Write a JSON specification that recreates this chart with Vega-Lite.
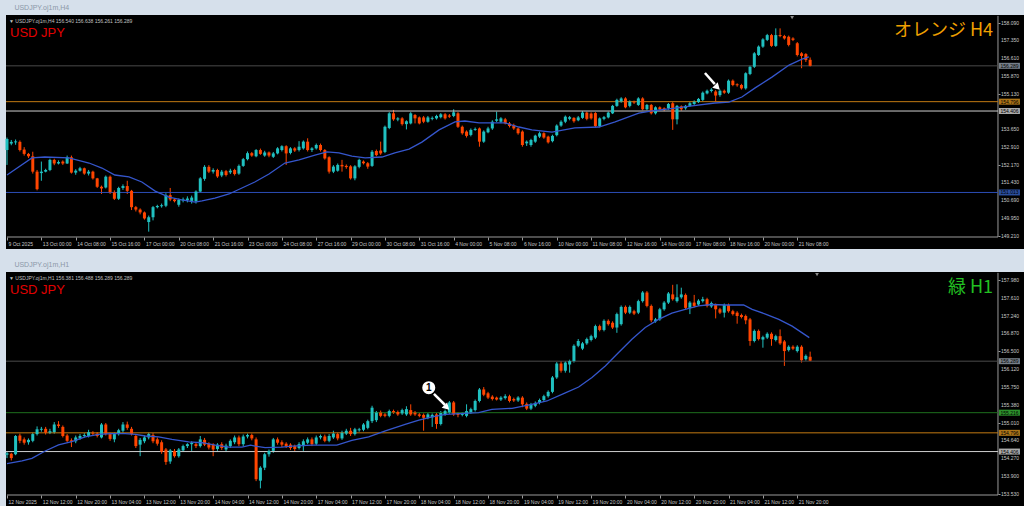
{
"$schema":"https://vega.github.io/schema/vega-lite/v6.json",
"background":"#d6e0eb",
"padding":{"left":4,"right":2,"top":4,"bottom":0},
"spacing":12,
"config":{"view":{"fill":"#000000","stroke":null},"axis":{"labelOverlap":false},"title":{"anchor":"start","fontSize":7,"font":"Liberation Sans","fontWeight":"normal","color":"#8c98a8","offset":4,"dx":10}},
"datasets":{
"h4":[
{"i":0,"o":152.78,"h":153.3,"l":152.16,"c":153.24},{"i":1,"o":153.05,"h":153.2,"l":152.98,"c":153.12},{"i":2,"o":153.1,"h":153.22,"l":153.0,"c":153.14},{"i":3,"o":153.12,"h":153.18,"l":152.72,"c":152.78},{"i":4,"o":152.8,"h":152.9,"l":152.55,"c":152.62},{"i":5,"o":152.62,"h":152.66,"l":152.45,"c":152.52},{"i":6,"o":152.52,"h":152.71,"l":151.8,"c":151.88},{"i":7,"o":151.88,"h":151.95,"l":151.1,"c":151.15},{"i":8,"o":151.82,"h":152.3,"l":151.5,"c":151.88},{"i":9,"o":151.88,"h":152.0,"l":151.85,"c":151.95},
{"i":10,"o":151.95,"h":152.42,"l":151.9,"c":152.37},{"i":11,"o":152.37,"h":152.42,"l":152.15,"c":152.22},{"i":12,"o":152.22,"h":152.35,"l":152.18,"c":152.28},{"i":13,"o":152.3,"h":152.35,"l":152.16,"c":152.22},{"i":14,"o":152.22,"h":152.55,"l":152.2,"c":152.48},{"i":15,"o":152.48,"h":152.55,"l":151.8,"c":151.84},{"i":16,"o":151.84,"h":151.98,"l":151.75,"c":151.92},{"i":17,"o":151.92,"h":152.08,"l":151.88,"c":152.02},{"i":18,"o":152.02,"h":152.05,"l":151.75,"c":151.8},{"i":19,"o":151.8,"h":151.95,"l":151.72,"c":151.88},
{"i":20,"o":151.88,"h":151.92,"l":151.55,"c":151.6},{"i":21,"o":151.6,"h":151.62,"l":151.2,"c":151.25},{"i":22,"o":151.25,"h":151.3,"l":150.95,"c":151.18},{"i":23,"o":151.22,"h":151.72,"l":151.18,"c":151.67},{"i":24,"o":151.67,"h":151.72,"l":150.95,"c":151.02},{"i":25,"o":151.02,"h":151.1,"l":150.7,"c":150.75},{"i":26,"o":150.75,"h":151.25,"l":150.7,"c":151.2},{"i":27,"o":151.2,"h":151.35,"l":151.12,"c":151.28},{"i":28,"o":151.28,"h":151.5,"l":150.95,"c":151.08},{"i":29,"o":151.08,"h":151.12,"l":150.28,"c":150.4},
{"i":30,"o":150.4,"h":150.45,"l":150.22,"c":150.3},{"i":31,"o":150.3,"h":150.35,"l":150.1,"c":150.18},{"i":32,"o":150.18,"h":150.22,"l":149.88,"c":149.93},{"i":33,"o":149.78,"h":150.05,"l":149.38,"c":149.98},{"i":34,"o":149.98,"h":150.45,"l":149.85,"c":150.4},{"i":35,"o":150.4,"h":150.5,"l":150.35,"c":150.45},{"i":36,"o":150.44,"h":150.55,"l":150.38,"c":150.48},{"i":37,"o":150.46,"h":150.98,"l":150.4,"c":150.9},{"i":38,"o":150.9,"h":151.2,"l":150.65,"c":150.72},{"i":39,"o":150.72,"h":150.78,"l":150.6,"c":150.65},
{"i":40,"o":150.5,"h":150.76,"l":150.42,"c":150.7},{"i":41,"o":150.68,"h":150.8,"l":150.6,"c":150.72},{"i":42,"o":150.7,"h":150.85,"l":150.6,"c":150.76},{"i":43,"o":150.66,"h":150.88,"l":150.55,"c":150.8},{"i":44,"o":150.64,"h":151.1,"l":150.55,"c":151.05},{"i":45,"o":151.05,"h":151.65,"l":151.0,"c":151.6},{"i":46,"o":151.58,"h":152.15,"l":151.5,"c":152.08},{"i":47,"o":152.08,"h":152.15,"l":151.82,"c":151.88},{"i":48,"o":151.88,"h":152.02,"l":151.8,"c":151.95},{"i":49,"o":151.95,"h":152.0,"l":151.62,"c":151.68},
{"i":50,"o":151.72,"h":151.95,"l":151.65,"c":151.88},{"i":51,"o":151.9,"h":151.95,"l":151.68,"c":151.74},{"i":52,"o":151.85,"h":152.0,"l":151.78,"c":151.92},{"i":53,"o":151.95,"h":152.0,"l":151.72,"c":151.78},{"i":54,"o":151.8,"h":152.18,"l":151.75,"c":152.12},{"i":55,"o":152.12,"h":152.45,"l":152.08,"c":152.4},{"i":56,"o":152.4,"h":152.72,"l":152.35,"c":152.65},{"i":57,"o":152.65,"h":152.7,"l":152.5,"c":152.55},{"i":58,"o":152.52,"h":152.82,"l":152.48,"c":152.78},{"i":59,"o":152.78,"h":152.84,"l":152.58,"c":152.62},
{"i":60,"o":152.55,"h":152.75,"l":152.5,"c":152.68},{"i":61,"o":152.68,"h":152.72,"l":152.48,"c":152.55},{"i":62,"o":152.5,"h":152.7,"l":152.45,"c":152.64},{"i":63,"o":152.64,"h":152.9,"l":152.6,"c":152.85},{"i":64,"o":152.78,"h":152.98,"l":152.72,"c":152.94},{"i":65,"o":152.94,"h":152.98,"l":152.16,"c":152.64},{"i":66,"o":152.66,"h":152.9,"l":152.6,"c":152.85},{"i":67,"o":152.85,"h":152.9,"l":152.7,"c":152.76},{"i":68,"o":152.78,"h":153.15,"l":152.72,"c":152.92},{"i":69,"o":152.85,"h":153.18,"l":152.8,"c":153.13},
{"i":70,"o":153.13,"h":153.27,"l":152.72,"c":152.78},{"i":71,"o":152.78,"h":152.9,"l":152.7,"c":152.85},{"i":72,"o":152.85,"h":153.05,"l":152.8,"c":152.99},{"i":73,"o":152.99,"h":153.05,"l":152.72,"c":152.78},{"i":74,"o":152.78,"h":152.82,"l":152.38,"c":152.43},{"i":75,"o":152.48,"h":152.52,"l":151.8,"c":151.88},{"i":76,"o":151.88,"h":152.15,"l":151.82,"c":152.09},{"i":77,"o":151.92,"h":152.22,"l":151.88,"c":152.16},{"i":78,"o":152.16,"h":152.37,"l":151.88,"c":152.1},{"i":79,"o":152.12,"h":152.18,"l":152.0,"c":152.07},
{"i":80,"o":152.1,"h":152.15,"l":151.55,"c":151.6},{"i":81,"o":151.6,"h":152.15,"l":151.52,"c":152.1},{"i":82,"o":152.08,"h":152.42,"l":152.02,"c":152.37},{"i":83,"o":152.3,"h":152.35,"l":152.18,"c":152.23},{"i":84,"o":152.23,"h":152.28,"l":152.0,"c":152.09},{"i":85,"o":152.12,"h":152.78,"l":152.08,"c":152.71},{"i":86,"o":152.74,"h":152.8,"l":152.52,"c":152.57},{"i":87,"o":152.76,"h":153.13,"l":152.58,"c":152.64},{"i":88,"o":152.7,"h":153.8,"l":152.65,"c":153.75},{"i":89,"o":153.7,"h":154.36,"l":153.65,"c":154.31},
{"i":90,"o":154.31,"h":154.45,"l":154.0,"c":154.06},{"i":91,"o":154.05,"h":154.15,"l":153.98,"c":154.1},{"i":92,"o":154.1,"h":154.15,"l":153.8,"c":153.86},{"i":93,"o":153.86,"h":154.02,"l":153.64,"c":153.98},{"i":94,"o":153.89,"h":154.36,"l":153.85,"c":154.31},{"i":95,"o":154.24,"h":154.28,"l":153.89,"c":154.1},{"i":96,"o":154.14,"h":154.18,"l":153.85,"c":153.89},{"i":97,"o":154.14,"h":154.2,"l":153.9,"c":153.96},{"i":98,"o":153.96,"h":154.2,"l":153.92,"c":154.14},{"i":99,"o":154.08,"h":154.18,"l":154.02,"c":154.12},
{"i":100,"o":154.1,"h":154.25,"l":154.05,"c":154.2},{"i":101,"o":154.15,"h":154.32,"l":154.1,"c":154.27},{"i":102,"o":154.27,"h":154.32,"l":154.05,"c":154.1},{"i":103,"o":154.22,"h":154.28,"l":154.12,"c":154.17},{"i":104,"o":154.2,"h":154.48,"l":154.15,"c":154.35},{"i":105,"o":154.31,"h":154.36,"l":153.7,"c":153.75},{"i":106,"o":153.75,"h":153.8,"l":153.42,"c":153.48},{"i":107,"o":153.55,"h":153.6,"l":153.3,"c":153.37},{"i":108,"o":153.41,"h":153.68,"l":153.35,"c":153.62},{"i":109,"o":153.62,"h":153.72,"l":153.58,"c":153.66},
{"i":110,"o":153.68,"h":153.72,"l":152.92,"c":153.13},{"i":111,"o":153.13,"h":153.6,"l":153.08,"c":153.55},{"i":112,"o":153.52,"h":153.75,"l":153.48,"c":153.68},{"i":113,"o":153.68,"h":154.02,"l":153.62,"c":153.96},{"i":114,"o":154.0,"h":154.38,"l":153.95,"c":154.06},{"i":115,"o":153.96,"h":154.15,"l":153.9,"c":154.1},{"i":116,"o":154.06,"h":154.12,"l":153.85,"c":153.89},{"i":117,"o":153.89,"h":153.95,"l":153.72,"c":153.78},{"i":118,"o":153.82,"h":153.88,"l":153.62,"c":153.68},{"i":119,"o":153.68,"h":153.72,"l":153.42,"c":153.48},
{"i":120,"o":153.55,"h":153.6,"l":152.92,"c":152.99},{"i":121,"o":153.06,"h":153.18,"l":152.95,"c":153.13},{"i":122,"o":152.99,"h":153.25,"l":152.92,"c":153.2},{"i":123,"o":153.13,"h":153.42,"l":153.08,"c":153.38},{"i":124,"o":153.34,"h":153.55,"l":153.28,"c":153.48},{"i":125,"o":153.48,"h":153.52,"l":153.25,"c":153.3},{"i":126,"o":153.34,"h":153.38,"l":153.05,"c":153.1},{"i":127,"o":153.15,"h":153.42,"l":153.1,"c":153.37},{"i":128,"o":153.4,"h":153.85,"l":153.35,"c":153.8},{"i":129,"o":153.8,"h":154.02,"l":153.75,"c":153.96},
{"i":130,"o":153.96,"h":154.22,"l":153.9,"c":154.17},{"i":131,"o":154.08,"h":154.2,"l":154.02,"c":154.15},{"i":132,"o":154.12,"h":154.15,"l":153.92,"c":153.98},{"i":133,"o":154.02,"h":154.2,"l":153.98,"c":154.14},{"i":134,"o":154.12,"h":154.4,"l":154.08,"c":154.34},{"i":135,"o":154.34,"h":154.38,"l":154.02,"c":154.08},{"i":136,"o":154.3,"h":154.35,"l":154.05,"c":154.1},{"i":137,"o":154.32,"h":154.36,"l":153.72,"c":153.78},{"i":138,"o":153.78,"h":154.14,"l":153.72,"c":154.1},{"i":139,"o":154.08,"h":154.2,"l":154.02,"c":154.15},
{"i":140,"o":154.14,"h":154.38,"l":154.1,"c":154.34},{"i":141,"o":154.31,"h":154.66,"l":154.28,"c":154.62},{"i":142,"o":154.62,"h":154.92,"l":154.58,"c":154.87},{"i":143,"o":154.8,"h":154.98,"l":154.75,"c":154.93},{"i":144,"o":154.93,"h":154.98,"l":154.52,"c":154.56},{"i":145,"o":154.62,"h":154.85,"l":154.56,"c":154.8},{"i":146,"o":154.8,"h":154.84,"l":154.7,"c":154.76},{"i":147,"o":154.66,"h":154.98,"l":154.62,"c":154.93},{"i":148,"o":154.93,"h":154.98,"l":154.44,"c":154.48},{"i":149,"o":154.48,"h":154.7,"l":154.44,"c":154.66},
{"i":150,"o":154.66,"h":154.7,"l":154.26,"c":154.31},{"i":151,"o":154.31,"h":154.6,"l":154.26,"c":154.56},{"i":152,"o":154.56,"h":154.6,"l":154.44,"c":154.48},{"i":153,"o":154.52,"h":154.56,"l":154.4,"c":154.46},{"i":154,"o":154.52,"h":154.74,"l":154.46,"c":154.7},{"i":155,"o":154.73,"h":154.78,"l":153.62,"c":154.06},{"i":156,"o":154.06,"h":154.66,"l":153.85,"c":154.62},{"i":157,"o":154.6,"h":154.64,"l":154.42,"c":154.48},{"i":158,"o":154.52,"h":154.66,"l":154.46,"c":154.62},{"i":159,"o":154.62,"h":154.78,"l":154.58,"c":154.73},
{"i":160,"o":154.7,"h":154.85,"l":154.66,"c":154.8},{"i":161,"o":154.78,"h":154.95,"l":154.74,"c":154.91},{"i":162,"o":154.87,"h":155.22,"l":154.82,"c":155.17},{"i":163,"o":155.14,"h":155.3,"l":155.1,"c":155.25},{"i":164,"o":155.24,"h":155.36,"l":155.18,"c":155.3},{"i":165,"o":155.22,"h":155.28,"l":154.8,"c":155.05},{"i":166,"o":155.07,"h":155.3,"l":155.0,"c":155.25},{"i":167,"o":155.25,"h":155.3,"l":155.12,"c":155.17},{"i":168,"o":155.17,"h":155.72,"l":155.12,"c":155.67},{"i":169,"o":155.67,"h":155.72,"l":155.44,"c":155.49},
{"i":170,"o":155.52,"h":155.56,"l":155.42,"c":155.48},{"i":171,"o":155.49,"h":155.54,"l":155.3,"c":155.35},{"i":172,"o":155.35,"h":156.02,"l":155.3,"c":155.98},{"i":173,"o":155.95,"h":156.3,"l":155.9,"c":156.25},{"i":174,"o":156.25,"h":156.86,"l":156.2,"c":156.81},{"i":175,"o":156.74,"h":157.14,"l":156.7,"c":157.09},{"i":176,"o":157.09,"h":157.44,"l":157.04,"c":157.39},{"i":177,"o":157.37,"h":157.62,"l":157.32,"c":157.57},{"i":178,"o":157.57,"h":157.62,"l":157.08,"c":157.12},{"i":179,"o":157.12,"h":157.85,"l":157.08,"c":157.57},
{"i":180,"o":157.57,"h":157.85,"l":157.48,"c":157.53},{"i":181,"o":157.53,"h":157.58,"l":157.38,"c":157.43},{"i":182,"o":157.5,"h":157.55,"l":157.1,"c":157.16},{"i":183,"o":157.43,"h":157.48,"l":157.32,"c":157.37},{"i":184,"o":157.23,"h":157.28,"l":156.68,"c":156.74},{"i":185,"o":156.81,"h":156.86,"l":156.19,"c":156.7},{"i":186,"o":156.78,"h":156.82,"l":156.45,"c":156.53},{"i":187,"o":156.54,"h":156.638,"l":156.261,"c":156.289}
],
"h1":[
{"i":0,"o":154.34,"h":154.4,"l":154.27,"c":154.37},{"i":1,"o":154.36,"h":154.38,"l":154.22,"c":154.27},{"i":2,"o":154.35,"h":154.75,"l":154.33,"c":154.73},{"i":3,"o":154.74,"h":154.78,"l":154.58,"c":154.63},{"i":4,"o":154.66,"h":154.7,"l":154.55,"c":154.59},{"i":5,"o":154.6,"h":154.68,"l":154.55,"c":154.65},{"i":6,"o":154.63,"h":154.8,"l":154.6,"c":154.77},{"i":7,"o":154.77,"h":154.93,"l":154.74,"c":154.87},{"i":8,"o":154.86,"h":154.92,"l":154.82,"c":154.88},{"i":9,"o":154.88,"h":154.92,"l":154.76,"c":154.8},
{"i":10,"o":154.8,"h":154.88,"l":154.77,"c":154.83},{"i":11,"o":154.81,"h":155.02,"l":154.78,"c":154.97},{"i":12,"o":154.97,"h":155.04,"l":154.9,"c":154.94},{"i":13,"o":154.92,"h":154.95,"l":154.7,"c":154.73},{"i":14,"o":154.74,"h":154.77,"l":154.6,"c":154.63},{"i":15,"o":154.64,"h":154.68,"l":154.5,"c":154.61},{"i":16,"o":154.62,"h":154.74,"l":154.58,"c":154.7},{"i":17,"o":154.68,"h":154.77,"l":154.65,"c":154.73},{"i":18,"o":154.73,"h":154.79,"l":154.7,"c":154.75},{"i":19,"o":154.73,"h":154.86,"l":154.7,"c":154.81},
{"i":20,"o":154.8,"h":154.83,"l":154.74,"c":154.78},{"i":21,"o":154.78,"h":154.81,"l":154.7,"c":154.73},{"i":22,"o":154.7,"h":155.0,"l":154.68,"c":154.97},{"i":23,"o":154.97,"h":155.0,"l":154.74,"c":154.77},{"i":24,"o":154.77,"h":154.8,"l":154.63,"c":154.67},{"i":25,"o":154.66,"h":154.8,"l":154.6,"c":154.77},{"i":26,"o":154.77,"h":154.88,"l":154.74,"c":154.85},{"i":27,"o":154.84,"h":155.02,"l":154.8,"c":154.97},{"i":28,"o":154.97,"h":155.03,"l":154.86,"c":154.9},{"i":29,"o":154.88,"h":154.92,"l":154.74,"c":154.77},
{"i":30,"o":154.73,"h":154.77,"l":154.48,"c":154.52},{"i":31,"o":154.55,"h":154.69,"l":154.31,"c":154.65},{"i":32,"o":154.62,"h":154.74,"l":154.58,"c":154.7},{"i":33,"o":154.7,"h":154.8,"l":154.66,"c":154.77},{"i":34,"o":154.75,"h":154.79,"l":154.58,"c":154.62},{"i":35,"o":154.66,"h":154.7,"l":154.53,"c":154.57},{"i":36,"o":154.6,"h":154.64,"l":154.36,"c":154.4},{"i":37,"o":154.45,"h":154.48,"l":154.13,"c":154.19},{"i":38,"o":154.2,"h":154.46,"l":154.15,"c":154.43},{"i":39,"o":154.42,"h":154.46,"l":154.28,"c":154.31},
{"i":40,"o":154.31,"h":154.48,"l":154.28,"c":154.45},{"i":41,"o":154.43,"h":154.55,"l":154.4,"c":154.52},{"i":42,"o":154.52,"h":154.58,"l":154.48,"c":154.56},{"i":43,"o":154.56,"h":154.62,"l":154.42,"c":154.59},{"i":44,"o":154.56,"h":154.6,"l":154.48,"c":154.52},{"i":45,"o":154.52,"h":154.73,"l":154.49,"c":154.66},{"i":46,"o":154.65,"h":154.69,"l":154.52,"c":154.55},{"i":47,"o":154.57,"h":154.6,"l":154.45,"c":154.49},{"i":48,"o":154.55,"h":154.58,"l":154.31,"c":154.45},{"i":49,"o":154.46,"h":154.58,"l":154.42,"c":154.55},
{"i":50,"o":154.56,"h":154.6,"l":154.44,"c":154.48},{"i":51,"o":154.45,"h":154.57,"l":154.4,"c":154.53},{"i":52,"o":154.52,"h":154.66,"l":154.48,"c":154.63},{"i":53,"o":154.6,"h":154.74,"l":154.56,"c":154.7},{"i":54,"o":154.7,"h":154.74,"l":154.52,"c":154.56},{"i":55,"o":154.56,"h":154.76,"l":154.52,"c":154.72},{"i":56,"o":154.72,"h":154.78,"l":154.68,"c":154.75},{"i":57,"o":154.75,"h":154.78,"l":154.64,"c":154.68},{"i":58,"o":154.66,"h":154.7,"l":153.79,"c":153.83},{"i":59,"o":153.8,"h":154.1,"l":153.64,"c":154.07},
{"i":60,"o":154.07,"h":154.38,"l":154.02,"c":154.35},{"i":61,"o":154.35,"h":154.45,"l":154.3,"c":154.42},{"i":62,"o":154.42,"h":154.69,"l":154.38,"c":154.66},{"i":63,"o":154.66,"h":154.7,"l":154.55,"c":154.59},{"i":64,"o":154.6,"h":154.64,"l":154.5,"c":154.55},{"i":65,"o":154.57,"h":154.6,"l":154.48,"c":154.52},{"i":66,"o":154.55,"h":154.58,"l":154.44,"c":154.48},{"i":67,"o":154.52,"h":154.55,"l":154.42,"c":154.46},{"i":68,"o":154.48,"h":154.6,"l":154.45,"c":154.56},{"i":69,"o":154.52,"h":154.66,"l":154.42,"c":154.62},
{"i":70,"o":154.59,"h":154.7,"l":154.56,"c":154.66},{"i":71,"o":154.66,"h":154.7,"l":154.52,"c":154.56},{"i":72,"o":154.57,"h":154.74,"l":154.54,"c":154.7},{"i":73,"o":154.7,"h":154.76,"l":154.66,"c":154.73},{"i":74,"o":154.72,"h":154.76,"l":154.6,"c":154.63},{"i":75,"o":154.63,"h":154.77,"l":154.6,"c":154.73},{"i":76,"o":154.7,"h":154.84,"l":154.67,"c":154.78},{"i":77,"o":154.77,"h":154.8,"l":154.64,"c":154.68},{"i":78,"o":154.68,"h":154.84,"l":154.65,"c":154.8},{"i":79,"o":154.78,"h":154.88,"l":154.75,"c":154.84},
{"i":80,"o":154.84,"h":154.9,"l":154.73,"c":154.77},{"i":81,"o":154.77,"h":154.9,"l":154.74,"c":154.87},{"i":82,"o":154.85,"h":154.9,"l":154.82,"c":154.87},{"i":83,"o":154.86,"h":155.0,"l":154.83,"c":154.97},{"i":84,"o":154.9,"h":155.07,"l":154.87,"c":155.04},{"i":85,"o":155.04,"h":155.36,"l":155.0,"c":155.32},{"i":86,"o":155.06,"h":155.25,"l":155.02,"c":155.22},{"i":87,"o":155.22,"h":155.26,"l":155.12,"c":155.15},{"i":88,"o":155.18,"h":155.21,"l":155.12,"c":155.15},{"i":89,"o":155.15,"h":155.28,"l":155.12,"c":155.25},
{"i":90,"o":155.25,"h":155.28,"l":155.19,"c":155.22},{"i":91,"o":155.23,"h":155.26,"l":155.15,"c":155.18},{"i":92,"o":155.2,"h":155.3,"l":155.17,"c":155.27},{"i":93,"o":155.18,"h":155.35,"l":155.15,"c":155.29},{"i":94,"o":155.27,"h":155.39,"l":155.15,"c":155.18},{"i":95,"o":155.22,"h":155.25,"l":155.15,"c":155.18},{"i":96,"o":155.18,"h":155.21,"l":155.12,"c":155.15},{"i":97,"o":155.17,"h":155.2,"l":154.84,"c":155.11},{"i":98,"o":155.11,"h":155.21,"l":155.08,"c":155.18},{"i":99,"o":155.12,"h":155.2,"l":154.92,"c":155.17},
{"i":100,"o":155.18,"h":155.21,"l":154.88,"c":154.98},{"i":101,"o":154.98,"h":155.25,"l":154.95,"c":155.21},{"i":102,"o":155.18,"h":155.28,"l":155.15,"c":155.25},{"i":103,"o":155.22,"h":155.46,"l":155.19,"c":155.43},{"i":104,"o":155.43,"h":155.46,"l":155.15,"c":155.18},{"i":105,"o":155.2,"h":155.23,"l":155.12,"c":155.17},{"i":106,"o":155.17,"h":155.23,"l":155.14,"c":155.2},{"i":107,"o":155.15,"h":155.39,"l":155.12,"c":155.25},{"i":108,"o":155.22,"h":155.32,"l":155.19,"c":155.29},{"i":109,"o":155.27,"h":155.49,"l":155.24,"c":155.46},
{"i":110,"o":155.46,"h":155.73,"l":155.43,"c":155.7},{"i":111,"o":155.7,"h":155.75,"l":155.56,"c":155.59},{"i":112,"o":155.62,"h":155.65,"l":155.5,"c":155.53},{"i":113,"o":155.55,"h":155.58,"l":155.47,"c":155.5},{"i":114,"o":155.53,"h":155.55,"l":155.47,"c":155.49},{"i":115,"o":155.49,"h":155.56,"l":155.46,"c":155.53},{"i":116,"o":155.52,"h":155.6,"l":155.49,"c":155.56},{"i":117,"o":155.56,"h":155.59,"l":155.43,"c":155.46},{"i":118,"o":155.5,"h":155.53,"l":155.44,"c":155.47},{"i":119,"o":155.47,"h":155.56,"l":155.44,"c":155.53},
{"i":120,"o":155.53,"h":155.56,"l":155.33,"c":155.39},{"i":121,"o":155.4,"h":155.43,"l":155.27,"c":155.3},{"i":122,"o":155.3,"h":155.42,"l":155.27,"c":155.39},{"i":123,"o":155.36,"h":155.45,"l":155.33,"c":155.42},{"i":124,"o":155.42,"h":155.51,"l":155.39,"c":155.48},{"i":125,"o":155.48,"h":155.59,"l":155.45,"c":155.56},{"i":126,"o":155.56,"h":155.68,"l":155.53,"c":155.65},{"i":127,"o":155.65,"h":155.98,"l":155.62,"c":155.95},{"i":128,"o":155.95,"h":156.27,"l":155.92,"c":156.24},{"i":129,"o":156.24,"h":156.29,"l":156.05,"c":156.09},
{"i":130,"o":156.09,"h":156.29,"l":156.05,"c":156.26},{"i":131,"o":156.22,"h":156.32,"l":156.05,"c":156.29},{"i":132,"o":156.29,"h":156.64,"l":156.26,"c":156.61},{"i":133,"o":156.61,"h":156.75,"l":156.58,"c":156.71},{"i":134,"o":156.55,"h":156.69,"l":156.52,"c":156.66},{"i":135,"o":156.66,"h":156.78,"l":156.63,"c":156.75},{"i":136,"o":156.73,"h":156.84,"l":156.7,"c":156.81},{"i":137,"o":156.78,"h":157.05,"l":156.75,"c":157.02},{"i":138,"o":157.02,"h":157.05,"l":156.91,"c":156.94},{"i":139,"o":156.94,"h":157.16,"l":156.91,"c":157.13},
{"i":140,"o":157.13,"h":157.16,"l":157.03,"c":157.06},{"i":141,"o":157.09,"h":157.12,"l":156.96,"c":156.99},{"i":142,"o":156.99,"h":157.3,"l":156.88,"c":157.27},{"i":143,"o":157.06,"h":157.45,"l":157.03,"c":157.42},{"i":144,"o":157.42,"h":157.45,"l":157.27,"c":157.3},{"i":145,"o":157.3,"h":157.45,"l":157.27,"c":157.42},{"i":146,"o":157.33,"h":157.36,"l":157.25,"c":157.28},{"i":147,"o":157.3,"h":157.57,"l":157.27,"c":157.54},{"i":148,"o":157.54,"h":157.75,"l":157.51,"c":157.72},{"i":149,"o":157.72,"h":157.75,"l":157.41,"c":157.44},
{"i":150,"o":157.44,"h":157.47,"l":157.1,"c":157.14},{"i":151,"o":157.12,"h":157.19,"l":157.09,"c":157.16},{"i":152,"o":157.16,"h":157.4,"l":157.13,"c":157.37},{"i":153,"o":157.37,"h":157.54,"l":157.34,"c":157.51},{"i":154,"o":157.51,"h":157.73,"l":157.48,"c":157.7},{"i":155,"o":157.68,"h":157.88,"l":157.55,"c":157.58},{"i":156,"o":157.54,"h":157.89,"l":157.51,"c":157.62},{"i":157,"o":157.62,"h":157.82,"l":157.59,"c":157.68},{"i":158,"o":157.67,"h":157.7,"l":157.37,"c":157.4},{"i":159,"o":157.4,"h":157.54,"l":157.27,"c":157.51},
{"i":160,"o":157.51,"h":157.67,"l":157.41,"c":157.44},{"i":161,"o":157.47,"h":157.58,"l":157.44,"c":157.55},{"i":162,"o":157.54,"h":157.63,"l":157.51,"c":157.58},{"i":163,"o":157.58,"h":157.61,"l":157.41,"c":157.44},{"i":164,"o":157.43,"h":157.53,"l":157.4,"c":157.5},{"i":165,"o":157.46,"h":157.49,"l":157.18,"c":157.37},{"i":166,"o":157.37,"h":157.4,"l":157.27,"c":157.3},{"i":167,"o":157.3,"h":157.49,"l":157.2,"c":157.46},{"i":168,"o":157.46,"h":157.49,"l":157.3,"c":157.33},{"i":169,"o":157.33,"h":157.36,"l":157.24,"c":157.27},
{"i":170,"o":157.3,"h":157.33,"l":157.07,"c":157.23},{"i":171,"o":157.25,"h":157.28,"l":157.18,"c":157.21},{"i":172,"o":157.23,"h":157.26,"l":157.06,"c":157.14},{"i":173,"o":157.16,"h":157.19,"l":156.61,"c":156.71},{"i":174,"o":156.71,"h":156.95,"l":156.68,"c":156.92},{"i":175,"o":156.92,"h":156.95,"l":156.72,"c":156.75},{"i":176,"o":156.74,"h":156.82,"l":156.57,"c":156.79},{"i":177,"o":156.78,"h":156.89,"l":156.75,"c":156.86},{"i":178,"o":156.86,"h":156.89,"l":156.61,"c":156.75},{"i":179,"o":156.73,"h":156.84,"l":156.7,"c":156.81},
{"i":180,"o":156.81,"h":156.95,"l":156.63,"c":156.66},{"i":181,"o":156.7,"h":156.73,"l":156.19,"c":156.5},{"i":182,"o":156.52,"h":156.62,"l":156.49,"c":156.59},{"i":183,"o":156.59,"h":156.62,"l":156.52,"c":156.55},{"i":184,"o":156.5,"h":156.62,"l":156.47,"c":156.59},{"i":185,"o":156.59,"h":156.62,"l":156.26,"c":156.31},{"i":186,"o":156.33,"h":156.43,"l":156.3,"c":156.4},{"i":187,"o":156.381,"h":156.488,"l":156.289,"c":156.3}
],
"ma4":[
{"i":0,"v":151.74},{"i":5.8,"v":152.45},{"i":8.8,"v":152.49},{"i":14.4,"v":152.45},{"i":19.1,"v":152.24},{"i":22.1,"v":152.03},{"i":25.1,"v":151.74},{"i":28.4,"v":151.66},{"i":31.4,"v":151.45},{"i":34.5,"v":151.07},{"i":37.7,"v":150.82},{"i":40.7,"v":150.7},{"i":43.8,"v":150.61},{"i":45.4,"v":150.66},{"i":48.4,"v":150.78},{"i":51.7,"v":150.95},{"i":54.7,"v":151.2},{"i":57.7,"v":151.45},{"i":61.0,"v":151.78},{"i":64.7,"v":152.24},{"i":68.0,"v":152.37},{"i":71.7,"v":152.57},{"i":74.5,"v":152.7},{"i":77.3,"v":152.66},{"i":80.3,"v":152.53},{"i":83.4,"v":152.45},{"i":87.3,"v":152.49},{"i":90.3,"v":152.66},{"i":93.6,"v":152.82},{"i":96.6,"v":153.11},{"i":100.6,"v":153.62},{"i":104.3,"v":153.95},{"i":106.6,"v":153.99},{"i":109.9,"v":153.91},{"i":112.9,"v":153.91},{"i":115.9,"v":153.91},{"i":119.2,"v":153.74},{"i":122.2,"v":153.62},{"i":126.9,"v":153.53},{"i":132.2,"v":153.7},{"i":137.8,"v":153.74},{"i":141.6,"v":153.95},{"i":147.1,"v":154.32},{"i":150.2,"v":154.41},{"i":155.5,"v":154.53},{"i":159.5,"v":154.62},{"i":164.8,"v":154.74},{"i":168.1,"v":154.78},{"i":171.1,"v":154.99},{"i":174.2,"v":155.37},{"i":178.1,"v":155.82},{"i":182.1,"v":156.32},{"i":185.1,"v":156.57},{"i":186.7,"v":156.66}
],
"ma1":[
{"i":0,"v":154.154},{"i":3.5,"v":154.21},{"i":5.8,"v":154.265},{"i":8.9,"v":154.418},{"i":12.0,"v":154.544},{"i":15.1,"v":154.613},{"i":18.2,"v":154.71},{"i":21.3,"v":154.766},{"i":24.4,"v":154.78},{"i":27.5,"v":154.78},{"i":29.9,"v":154.766},{"i":32.2,"v":154.73},{"i":35.3,"v":154.71},{"i":38.4,"v":154.66},{"i":42.3,"v":154.606},{"i":45.4,"v":154.59},{"i":48.5,"v":154.54},{"i":51.6,"v":154.5},{"i":54.7,"v":154.5},{"i":56.7,"v":154.54},{"i":57.8,"v":154.52},{"i":60.1,"v":154.49},{"i":64.0,"v":154.5},{"i":66.4,"v":154.52},{"i":71.0,"v":154.54},{"i":76.8,"v":154.54},{"i":80.3,"v":154.64},{"i":84.2,"v":154.71},{"i":88.1,"v":154.835},{"i":92.7,"v":154.97},{"i":95.9,"v":155.06},{"i":99.0,"v":155.13},{"i":102.1,"v":155.18},{"i":105.2,"v":155.196},{"i":109.8,"v":155.217},{"i":112.9,"v":155.286},{"i":117.6,"v":155.307},{"i":122.2,"v":155.39},{"i":125.7,"v":155.46},{"i":130,"v":155.63},{"i":133.1,"v":155.75},{"i":136.2,"v":155.95},{"i":139.3,"v":156.19},{"i":142.4,"v":156.47},{"i":145.5,"v":156.745},{"i":148.6,"v":156.99},{"i":151.7,"v":157.16},{"i":154.8,"v":157.29},{"i":157.9,"v":157.37},{"i":161,"v":157.44},{"i":164.1,"v":157.47},{"i":167.2,"v":157.46},{"i":171.5,"v":157.46},{"i":173.5,"v":157.37},{"i":176.6,"v":157.27},{"i":179.7,"v":157.16},{"i":182.8,"v":157.02},{"i":186.8,"v":156.78}
],
"lv4":[{"p":156.289,"k":"price"},{"p":154.796,"k":"orange"},{"p":154.406,"k":"white"},{"p":151.013,"k":"blue"}],
"lv1":[{"p":156.289,"k":"price"},{"p":155.216,"k":"green"},{"p":154.796,"k":"orange"},{"p":154.406,"k":"white"}],
"pl4":[{"p":149.21},{"p":149.95},{"p":150.69},{"p":151.43},{"p":152.17},{"p":152.91},{"p":153.65},{"p":155.13},{"p":155.87},{"p":156.61},{"p":157.35},{"p":158.09}],
"pl1":[{"p":153.53},{"p":153.9},{"p":154.27},{"p":154.64},{"p":155.01},{"p":155.38},{"p":155.75},{"p":156.12},{"p":156.5},{"p":156.87},{"p":157.24},{"p":157.61},{"p":157.98}]
},
"vconcat":[
{
"title":{"text":"USDJPY.oj1m,H4"},
"width":1018,"height":234,
"layer":[
{"data":{"name":"h4"},"mark":{"type":"rule","strokeWidth":1},
 "encoding":{"x":{"field":"i","type":"quantitative","scale":{"domain":[-0.233,236.79],"nice":false,"zero":false,"padding":0},
   "axis":{"zindex":1,"orient":"bottom","offset":-12,"title":null,"grid":false,"domain":false,"values":[0,8,16,24,32,40,48,56,64,72,80,88,96,104,112,120,128,136,144,152,160,168,176,184],
   "labelExpr":"['9 Oct 2025','13 Oct 00:00','14 Oct 08:00','15 Oct 16:00','17 Oct 00:00','20 Oct 08:00','21 Oct 16:00','23 Oct 00:00','24 Oct 08:00','27 Oct 16:00','29 Oct 00:00','30 Oct 08:00','31 Oct 16:00','4 Nov 00:00','5 Nov 08:00','6 Nov 16:00','10 Nov 00:00','11 Nov 08:00','12 Nov 16:00','14 Nov 00:00','17 Nov 08:00','18 Nov 16:00','20 Nov 00:00','21 Nov 08:00'][datum.value/8]",
   "labelAlign":"left","labelOffset":1,"labelFontSize":5,"labelFont":"Liberation Sans","labelColor":"#c8c8c8","labelPadding":1,"labelOverlap":false,"labelBound":false,"labelFlush":false,"tickSize":3,"tickColor":"#9a9a9a"}},
  "y":{"field":"l","type":"quantitative","scale":{"domain":[148.657,158.407],"nice":false,"zero":false},
   "axis":{"zindex":1,"orient":"right","offset":-26,"title":null,"grid":false,"labels":false,"domain":false,"values":[149.21,149.95,150.69,151.43,152.17,152.91,153.65,154.39,155.13,155.87,156.61,157.35,158.09],
   "tickSize":2,"tickColor":"#9a9a9a"}},
  "y2":{"field":"h"},
  "color":{"condition":{"test":"datum.c >= datum.o","value":"#20c0c0"},"value":"#ff4500"}}},
{"data":{"values":[{}]},"mark":{"type":"rule","color":"#9a9a9a","strokeWidth":1,"clip":true},
 "encoding":{"x":{"datum":0,"type":"quantitative"},"x2":{"datum":230.73},"y":{"datum":149.157,"type":"quantitative"}}},
{"data":{"values":[{}]},"mark":{"type":"rule","color":"#9a9a9a","strokeWidth":1,"clip":true},
 "encoding":{"x":{"datum":230.73,"type":"quantitative"},"y":{"datum":149.157,"type":"quantitative"},"y2":{"datum":158.37}}},
{"data":{"name":"lv4"},"mark":{"type":"rule","strokeWidth":1,"clip":true},
 "encoding":{"x":{"datum":-0.3,"type":"quantitative"},"x2":{"datum":230.73},
 "y":{"field":"p","type":"quantitative"},
 "stroke":{"field":"k","type":"nominal","scale":{"domain":["price","orange","white","blue","green"],"range":["#4a4a4a","#c27a12","#cfcfcf","#2b4db5","#1e6e1e"]},"legend":null}}},
{"data":{"name":"h4"},"mark":{"type":"bar","width":3},
 "encoding":{"x":{"field":"i","type":"quantitative"},"y":{"field":"o","type":"quantitative"},"y2":{"field":"c"},
  "color":{"condition":{"test":"datum.c >= datum.o","value":"#20c0c0"},"value":"#ff4500"}}},
{"data":{"name":"ma4"},"mark":{"type":"line","color":"#3556cc","strokeWidth":1.3},
 "encoding":{"x":{"field":"i","type":"quantitative"},"y":{"field":"v","type":"quantitative"}}},
{"data":{"name":"pl4"},"mark":{"type":"text","fontSize":5,"font":"Liberation Sans","color":"#c8c8c8","align":"left","baseline":"middle"},
 "encoding":{"x":{"datum":231.43,"type":"quantitative"},"y":{"field":"p","type":"quantitative"},"text":{"field":"p","format":".3f"}}},
{"data":{"name":"lv4"},"mark":{"type":"tick","orient":"horizontal","size":21,"thickness":6},
 "encoding":{"x":{"datum":233.4,"type":"quantitative"},"y":{"field":"p","type":"quantitative"},
  "fill":{"field":"k","type":"nominal","scale":{"domain":["price","orange","white","blue","green"],"range":["#aab6c3","#f5a623","#f2f2f2","#3c6fe0","#3fcf3f"]},"legend":null}}},
{"data":{"name":"lv4"},"mark":{"type":"text","fontSize":5,"font":"Liberation Sans","color":"#000000","align":"center","baseline":"middle"},
 "encoding":{"x":{"datum":233.4,"type":"quantitative"},"y":{"field":"p","type":"quantitative"},"text":{"field":"p","format":".3f"}}},
{"data":{"values":[{}]},"mark":{"type":"text","text":"▼ USDJPY.oj1m,H4  156.540 156.638 156.261 156.289","fontSize":5,"font":"Liberation Sans","color":"#c0c0c0","align":"left","baseline":"middle"},
 "encoding":{"x":{"datum":0.47,"type":"quantitative"},"y":{"datum":158.157,"type":"quantitative"}}},
{"data":{"values":[{}]},"mark":{"type":"text","text":"USD JPY","fontSize":13,"font":"Liberation Sans","color":"#e00000","align":"left","baseline":"alphabetic"},
 "encoding":{"x":{"datum":0.7,"type":"quantitative"},"y":{"datum":157.49,"type":"quantitative"}}},
{"data":{"values":[{}]},"mark":{"type":"text","text":"オレンジ H4","fontSize":18,"font":"Noto Sans CJK JP","color":"#f0a000","align":"right","baseline":"alphabetic"},
 "encoding":{"x":{"datum":229.6,"type":"quantitative"},"y":{"datum":157.53,"type":"quantitative"}}},
{"data":{"values":[{}]},"mark":{"type":"point","shape":"triangle-down","filled":true,"color":"#8a8a8a","size":14,"opacity":1},
 "encoding":{"x":{"datum":182.8,"type":"quantitative"},"y":{"datum":158.3,"type":"quantitative"}}},
{"data":{"values":[{}]},"mark":{"type":"rule","color":"#ffffff","strokeWidth":2.5},
 "encoding":{"x":{"datum":162.5,"type":"quantitative"},"y":{"datum":155.99,"type":"quantitative"},"x2":{"datum":164.8},"y2":{"datum":155.53}}},
{"data":{"values":[{}]},"mark":{"type":"point","shape":"triangle-down","angle":-45,"filled":true,"color":"#ffffff","size":60,"opacity":1},
 "encoding":{"x":{"datum":165.4,"type":"quantitative"},"y":{"datum":155.39,"type":"quantitative"}}}
]
},
{
"title":{"text":"USDJPY.oj1m,H1"},
"width":1018,"height":235,
"layer":[
{"data":{"name":"h1"},"mark":{"type":"rule","strokeWidth":1},
 "encoding":{"x":{"field":"i","type":"quantitative","scale":{"domain":[-0.233,236.79],"nice":false,"zero":false,"padding":0},
   "axis":{"zindex":1,"orient":"bottom","offset":-12,"title":null,"grid":false,"domain":false,"values":[0,8,16,24,32,40,48,56,64,72,80,88,96,104,112,120,128,136,144,152,160,168,176,184],
   "labelExpr":"['12 Nov 2025','12 Nov 12:00','12 Nov 20:00','13 Nov 04:00','13 Nov 12:00','13 Nov 20:00','14 Nov 04:00','14 Nov 12:00','14 Nov 20:00','17 Nov 04:00','17 Nov 12:00','17 Nov 20:00','18 Nov 04:00','18 Nov 12:00','18 Nov 20:00','19 Nov 04:00','19 Nov 12:00','19 Nov 20:00','20 Nov 04:00','20 Nov 12:00','20 Nov 20:00','21 Nov 04:00','21 Nov 12:00','21 Nov 20:00'][datum.value/8]",
   "labelAlign":"left","labelOffset":1,"labelFontSize":5,"labelFont":"Liberation Sans","labelColor":"#c8c8c8","labelPadding":1,"labelOverlap":false,"labelBound":false,"labelFlush":false,"tickSize":3,"tickColor":"#9a9a9a"}},
  "y":{"field":"l","type":"quantitative","scale":{"domain":[153.251,158.147],"nice":false,"zero":false},
   "axis":{"zindex":1,"orient":"right","offset":-26,"title":null,"grid":false,"labels":false,"domain":false,"values":[153.53,153.9,154.27,154.64,155.01,155.38,155.75,156.12,156.5,156.87,157.24,157.61,157.98],
   "tickSize":2,"tickColor":"#9a9a9a"}},
  "y2":{"field":"h"},
  "color":{"condition":{"test":"datum.c >= datum.o","value":"#20c0c0"},"value":"#ff4500"}}},
{"data":{"values":[{}]},"mark":{"type":"rule","color":"#9a9a9a","strokeWidth":1,"clip":true},
 "encoding":{"x":{"datum":0,"type":"quantitative"},"x2":{"datum":230.73},"y":{"datum":153.501,"type":"quantitative"}}},
{"data":{"values":[{}]},"mark":{"type":"rule","color":"#9a9a9a","strokeWidth":1,"clip":true},
 "encoding":{"x":{"datum":230.73,"type":"quantitative"},"y":{"datum":153.501,"type":"quantitative"},"y2":{"datum":158.13}}},
{"data":{"name":"lv1"},"mark":{"type":"rule","strokeWidth":1,"clip":true},
 "encoding":{"x":{"datum":-0.3,"type":"quantitative"},"x2":{"datum":230.73},
 "y":{"field":"p","type":"quantitative"},
 "stroke":{"field":"k","type":"nominal","scale":{"domain":["price","orange","white","blue","green"],"range":["#4a4a4a","#c27a12","#cfcfcf","#2b4db5","#1e6e1e"]},"legend":null}}},
{"data":{"name":"h1"},"mark":{"type":"bar","width":3},
 "encoding":{"x":{"field":"i","type":"quantitative"},"y":{"field":"o","type":"quantitative"},"y2":{"field":"c"},
  "color":{"condition":{"test":"datum.c >= datum.o","value":"#20c0c0"},"value":"#ff4500"}}},
{"data":{"name":"ma1"},"mark":{"type":"line","color":"#3556cc","strokeWidth":1.3},
 "encoding":{"x":{"field":"i","type":"quantitative"},"y":{"field":"v","type":"quantitative"}}},
{"data":{"name":"pl1"},"mark":{"type":"text","fontSize":5,"font":"Liberation Sans","color":"#c8c8c8","align":"left","baseline":"middle"},
 "encoding":{"x":{"datum":231.43,"type":"quantitative"},"y":{"field":"p","type":"quantitative"},"text":{"field":"p","format":".3f"}}},
{"data":{"name":"lv1"},"mark":{"type":"tick","orient":"horizontal","size":21,"thickness":6},
 "encoding":{"x":{"datum":233.4,"type":"quantitative"},"y":{"field":"p","type":"quantitative"},
  "fill":{"field":"k","type":"nominal","scale":{"domain":["price","orange","white","blue","green"],"range":["#aab6c3","#f5a623","#f2f2f2","#3c6fe0","#3fcf3f"]},"legend":null}}},
{"data":{"name":"lv1"},"mark":{"type":"text","fontSize":5,"font":"Liberation Sans","color":"#000000","align":"center","baseline":"middle"},
 "encoding":{"x":{"datum":233.4,"type":"quantitative"},"y":{"field":"p","type":"quantitative"},"text":{"field":"p","format":".3f"}}},
{"data":{"values":[{}]},"mark":{"type":"text","text":"▼ USDJPY.oj1m,H1  156.381 156.488 156.289 156.289","fontSize":5,"font":"Liberation Sans","color":"#c0c0c0","align":"left","baseline":"middle"},
 "encoding":{"x":{"datum":0.47,"type":"quantitative"},"y":{"datum":158.022,"type":"quantitative"}}},
{"data":{"values":[{}]},"mark":{"type":"text","text":"USD JPY","fontSize":13,"font":"Liberation Sans","color":"#e00000","align":"left","baseline":"alphabetic"},
 "encoding":{"x":{"datum":0.7,"type":"quantitative"},"y":{"datum":157.689,"type":"quantitative"}}},
{"data":{"values":[{}]},"mark":{"type":"text","text":"緑 H1","fontSize":18,"font":"Noto Sans CJK JP","color":"#22c022","align":"right","baseline":"alphabetic"},
 "encoding":{"x":{"datum":229.6,"type":"quantitative"},"y":{"datum":157.71,"type":"quantitative"}}},
{"data":{"values":[{}]},"mark":{"type":"point","shape":"triangle-down","filled":true,"color":"#8a8a8a","size":14,"opacity":1},
 "encoding":{"x":{"datum":188.6,"type":"quantitative"},"y":{"datum":158.09,"type":"quantitative"}}},
{"data":{"values":[{}]},"mark":{"type":"rule","color":"#ffffff","strokeWidth":2.5},
 "encoding":{"x":{"datum":99.4,"type":"quantitative"},"y":{"datum":155.606,"type":"quantitative"},"x2":{"datum":102.0},"y2":{"datum":155.376}}},
{"data":{"values":[{}]},"mark":{"type":"point","shape":"triangle-down","angle":-45,"filled":true,"color":"#ffffff","size":60,"opacity":1},
 "encoding":{"x":{"datum":102.4,"type":"quantitative"},"y":{"datum":155.324,"type":"quantitative"}}},
{"data":{"values":[{}]},"mark":{"type":"point","shape":"circle","filled":true,"color":"#ffffff","size":170,"opacity":1},
 "encoding":{"x":{"datum":98.2,"type":"quantitative"},"y":{"datum":155.737,"type":"quantitative"}}},
{"data":{"values":[{}]},"mark":{"type":"text","text":"1","fontSize":10,"fontWeight":"bold","font":"Liberation Sans","color":"#000000","align":"center","baseline":"middle"},
 "encoding":{"x":{"datum":98.2,"type":"quantitative"},"y":{"datum":155.737,"type":"quantitative"}}}
]
}
]
}
